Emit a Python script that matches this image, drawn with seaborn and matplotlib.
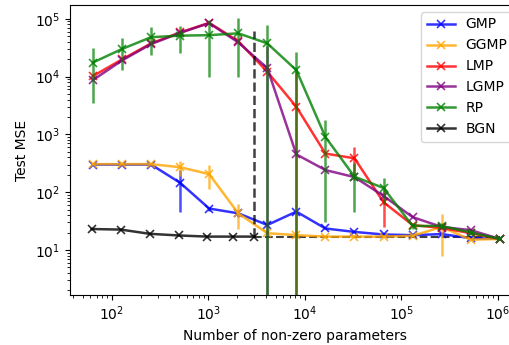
import numpy as np
import pandas as pd
import matplotlib
matplotlib.use('Agg')
import matplotlib.pyplot as plt
import seaborn as sns

# numero di parametri (assi x)
params = [64, 128, 256, 512, 1024, 2048, 4096, 8192, 16384, 32768,
          65536, 131072, 262144, 524288, 1048576]

gmp = [300, 300, 300, 145, 52, 43, 27, 46, 23.5, 20.5, 18.5, 18, 18.8, 16, 15.5]
gmp_err = [0, 0, 0, 100, 4, 6, 0, 0, 0, 0, 0, 0, 0, 0, 0]

ggmp = [305, 305, 305, 270, 205, 43, 19.5, 18, 17, 17, 17, 17.5, 25, 15, 15.5]
ggmp_err = [0, 0, 0, 80, 90, 20, 0, 0, 0, 0, 0, 0, 17, 0, 0]

lmp = [10200, 19800, 37500, 58000, 85000, 41000, 12100, 3000, 465, 385,
       67, 27, 24, 19.5, 15.5]
lmp_err = [0, 0, 0, 0, 0, 0, 0, 9500, 0, 220, 42, 0, 0, 0, 0]

lgmp = [8700, 19000, 36500, 57000, 84000, 39000, 14000, 450, 241, 182,
        86, 37, 25, 22, 15.5]
lgmp_err = [0, 0, 0, 0, 0, 0, 20000, 0, 0, 0, 0, 0, 0, 0, 0]

rp = [17500, 30000, 48000, 51000, 52000, 56000, 37500, 12900, 900, 185,
      118, 26, 26, 20, 15.5]
rp_err = [14000, 17000, 24000, 25000, 42000, 46000, 39000, 14000, 870, 140,
          55, 3, 3, 2, 0]

bgn_params = [62, 124, 248, 496, 980, 1800, 2950]
bgn = [23, 22.5, 19, 17.8, 17, 17, 17]
bgn_top = 62000

series = [
    ('GMP', params, gmp, gmp_err, 'blue'),
    ('GGMP', params, ggmp, ggmp_err, 'orange'),
    ('LMP', params, lmp, lmp_err, 'red'),
    ('LGMP', params, lgmp, lgmp_err, 'purple'),
    ('RP', params, rp, rp_err, 'green'),
    ('BGN', bgn_params, bgn, None, 'black'),
]

fig = plt.figure(figsize=(5.09, 3.45), dpi=100)
ax = fig.add_axes([70 / 509, 50 / 345, 450 / 509, 290 / 345])

for name, xs, ys, err, color in series:
    sns.lineplot(x=xs, y=ys, ax=ax, color=color, marker='x', markersize=6,
                 markeredgewidth=1.2, linewidth=1.8, alpha=0.8, label=name,
                 markeredgecolor=color)
    if err is not None:
        ax.errorbar(xs, ys, yerr=err, fmt='none', ecolor=color,
                    elinewidth=1.8, alpha=0.7)

# estensione tratteggiata di BGN
ax.vlines(bgn_params[-1], bgn[-1], bgn_top, colors='black', linestyles='--',
          linewidth=1.8, alpha=0.75)
ax.hlines(bgn[-1], bgn_params[-1], params[-1], colors='black', linestyles='--',
          linewidth=1.5, alpha=0.75, zorder=1)

ax.set_xscale('log')
ax.set_yscale('log')
ax.set_xlim(37, 1.7e6)
ax.set_ylim(1.66, 1.73e5)
ax.set_xlabel('Number of non-zero parameters')
ax.set_ylabel('Test MSE')
ax.legend(loc='upper right')

fig.savefig('out.png', dpi=100)
